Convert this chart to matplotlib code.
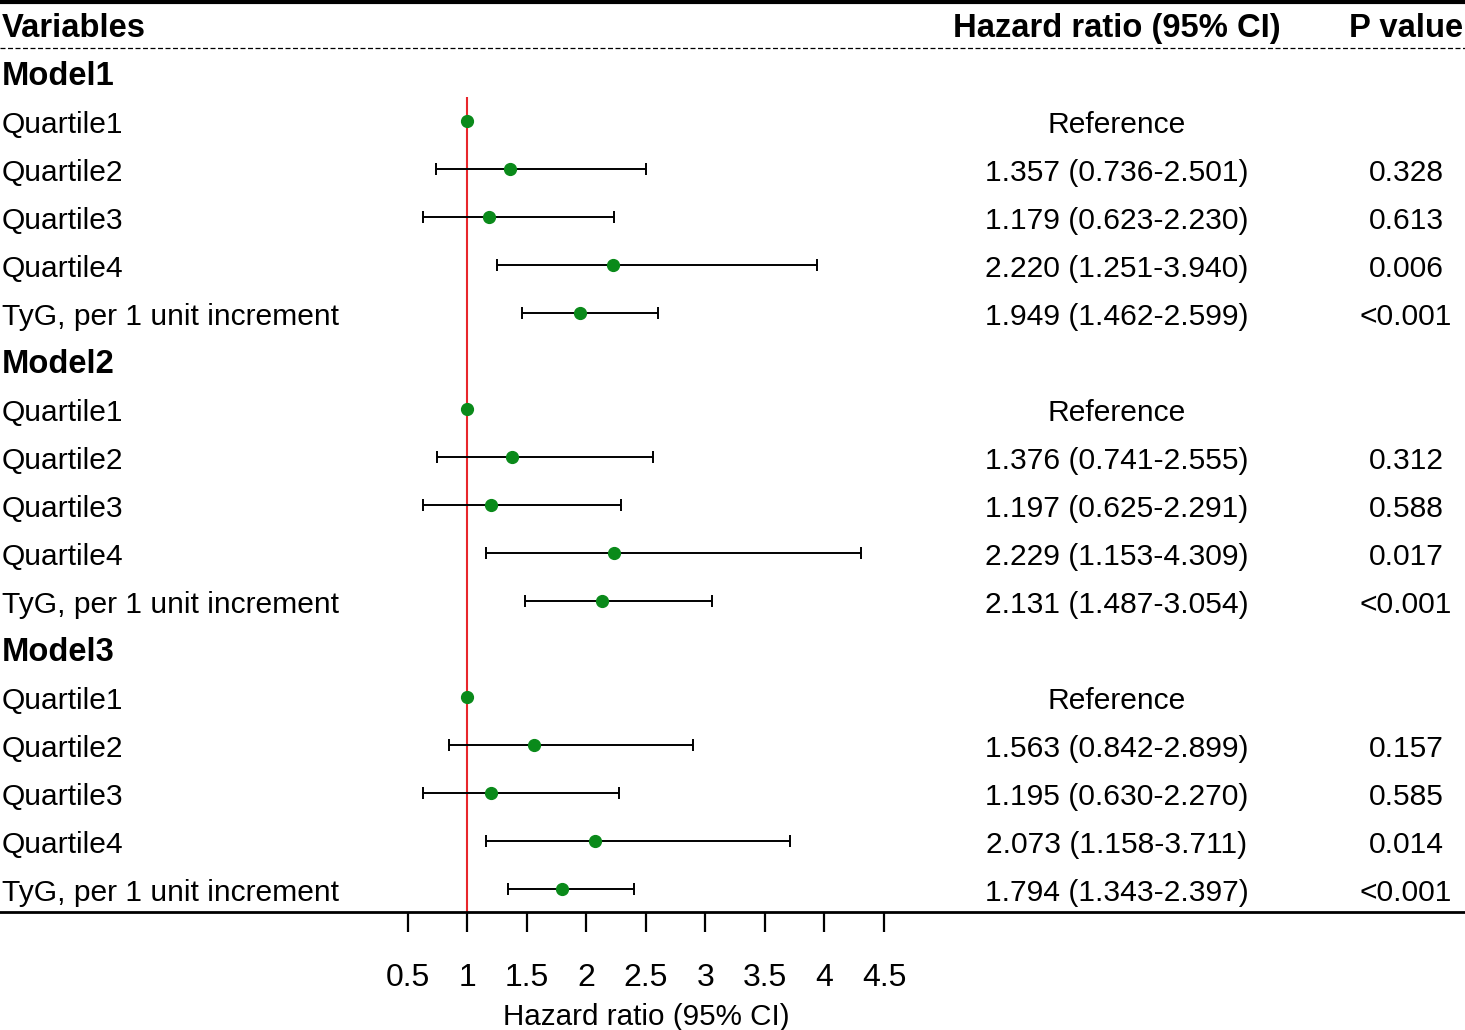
import matplotlib
matplotlib.use("Agg")
import matplotlib.pyplot as plt
import matplotlib.transforms as mtransforms
import numpy as np

plt.rcParams['font.family'] = ['Liberation Sans', 'DejaVu Sans']

# table rows (top to bottom)
labels = ['Model1', 'Quartile1', 'Quartile2', 'Quartile3', 'Quartile4', 'TyG, per 1 unit increment',
          'Model2', 'Quartile1', 'Quartile2', 'Quartile3', 'Quartile4', 'TyG, per 1 unit increment',
          'Model3', 'Quartile1', 'Quartile2', 'Quartile3', 'Quartile4', 'TyG, per 1 unit increment']
is_header = [True, False, False, False, False, False] * 3
hr = [None, 1.0, 1.357, 1.179, 2.220, 1.949,
      None, 1.0, 1.376, 1.197, 2.229, 2.131,
      None, 1.0, 1.563, 1.195, 2.073, 1.794]
lower = [None, None, 0.736, 0.623, 1.251, 1.462,
         None, None, 0.741, 0.625, 1.153, 1.487,
         None, None, 0.842, 0.630, 1.158, 1.343]
upper = [None, None, 2.501, 2.230, 3.940, 2.599,
         None, None, 2.555, 2.291, 4.309, 3.054,
         None, None, 2.899, 2.270, 3.711, 2.397]
pvals = ['', '', '0.328', '0.613', '0.006', '<0.001',
         '', '', '0.312', '0.588', '0.017', '<0.001',
         '', '', '0.157', '0.585', '0.014', '<0.001']
xticks = [0.5, 1, 1.5, 2, 2.5, 3, 3.5, 4, 4.5]

W, H = 1465, 1030
fig = plt.figure(figsize=(W / 100, H / 100), dpi=100)

# forest axes spans full width, from y=97px to y=912px
ax_top, ax_bot = 97, 912
ax = fig.add_axes([0, 1 - ax_bot / H, 1, (ax_bot - ax_top) / H])
row_h = 48.0
row0 = 25.0  # pixel centre of header row
ax.set_ylim((ax_bot - row0) / row_h, (ax_top - row0) / row_h)
ppu = 119.0  # pixels per HR unit
ax.set_xlim(1 - 467.5 / ppu, 1 + (W - 467.5) / ppu)

for s in ['top', 'left', 'right']:
    ax.spines[s].set_visible(False)
ax.spines['bottom'].set_linewidth(2.0)
ax.set_yticks([])
ax.set_xticks(xticks)
ax.set_xticklabels([('%g' % t) for t in xticks], fontsize=23)
ax.tick_params(axis='x', length=14.5, width=1.6, pad=22)
ax.set_xlabel('Hazard ratio (95% CI)', fontsize=21.3)
ax.xaxis.set_label_coords(646 / W, -0.112)

ax.axvline(1, color='#e8262b', lw=1.5, zorder=1)

trans = mtransforms.blended_transform_factory(fig.transFigure, ax.transData)
fs = 21.6
fsb = 23.6
dy = 0.075  # text sits a touch below the marker line

# header
ax.text(2 / W, dy, 'Variables', transform=trans, fontsize=fsb, fontweight='bold', va='center', ha='left')
ax.text(1117 / W, dy, 'Hazard ratio (95% CI)', transform=trans, fontsize=fsb, fontweight='bold', va='center', ha='center')
ax.text(1406 / W, dy, 'P value', transform=trans, fontsize=fsb, fontweight='bold', va='center', ha='center')
ax.axhline(-0.48, color='black', lw=3, clip_on=False)
ax.axhline(0.48, color='black', lw=0.9, ls=(0, (4, 2)), clip_on=False)

for i, lab in enumerate(labels):
    y = i + 1
    if is_header[i]:
        ax.text(2 / W, y + dy, lab, transform=trans, fontsize=fsb, fontweight='bold', va='center', ha='left')
        continue
    ax.text(2 / W, y + dy, lab, transform=trans, fontsize=fs, va='center', ha='left')
    if lower[i] is None:
        ax.text(1117 / W, y + dy, 'Reference', transform=trans, fontsize=fs, va='center', ha='center')
        ax.plot(hr[i], y, 'o', color='#0a8a1a', ms=8.5, zorder=3, clip_on=False)
    else:
        ax.errorbar(hr[i], y, xerr=[[hr[i] - lower[i]], [upper[i] - hr[i]]], fmt='o', color='#0a8a1a',
                    ecolor='black', elinewidth=1.4, capsize=4.5, capthick=1.4, ms=8.5, zorder=3, clip_on=False)
        txt = '%.3f (%.3f-%.3f)' % (hr[i], lower[i], upper[i])
        ax.text(1117 / W, y + dy, txt, transform=trans, fontsize=fs, va='center', ha='center')
        ax.text(1406 / W, y + dy, pvals[i], transform=trans, fontsize=fs, va='center', ha='center')

fig.savefig('out.png', dpi=100)
